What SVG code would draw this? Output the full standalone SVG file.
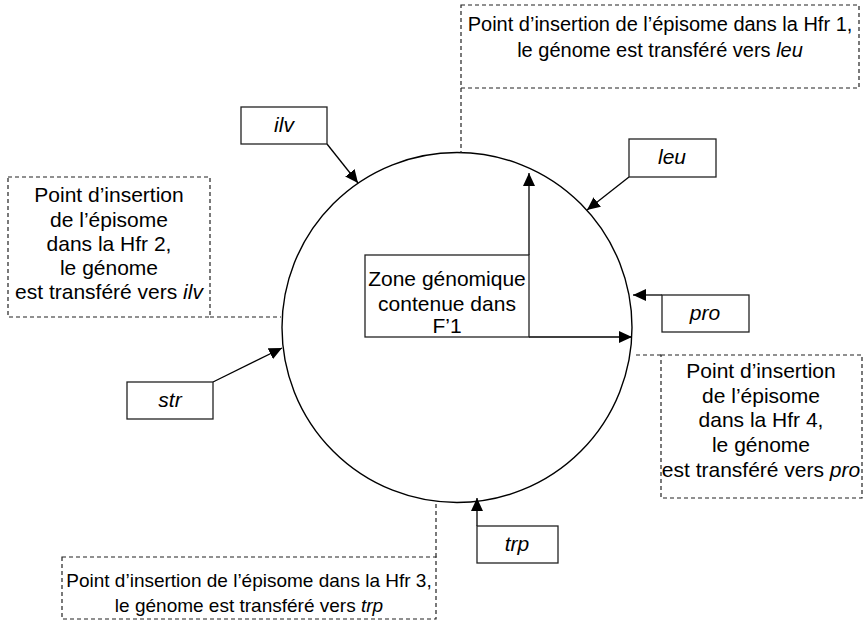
<svg xmlns="http://www.w3.org/2000/svg" width="865" height="621" viewBox="0 0 865 621">
<style>
text{font-family:"Liberation Sans",Arial,sans-serif;font-size:21px;fill:#000;text-anchor:middle}
.it{font-style:italic}
.s20{font-size:20px}
.s19{font-size:19px}
.box{fill:#fff;stroke:#222;stroke-width:1.3}
.dash{fill:none;stroke:#222;stroke-width:1.2;stroke-dasharray:4 3}
.arr{fill:none;stroke:#000;stroke-width:1.3;marker-end:url(#ah)}
</style>
<defs>
<marker id="ah" markerUnits="userSpaceOnUse" markerWidth="14" markerHeight="12" refX="13" refY="6" orient="auto">
<path d="M0,0 L13,6 L0,12 Z" fill="#000"/>
</marker>
</defs>
<rect width="865" height="621" fill="#fff"/>
<g id="genome">
<circle cx="457" cy="327.5" r="175" fill="none" stroke="#000" stroke-width="1.4"/>
</g>
<g id="connectors">
<path class="dash" d="M461,88 V153"/>
<path class="dash" d="M210,317 H281"/>
<path class="dash" d="M661,355 H633"/>
<path class="dash" d="M436,557 V502"/>
<path class="arr" d="M327,144 L358,183"/>
<path class="arr" d="M629,177 L587,210"/>
<path class="arr" d="M662,295 H633"/>
<path class="arr" d="M213,382 L282,348"/>
<path class="arr" d="M477,526 V498"/>
<path class="arr" d="M529,255 V173"/>
<path class="arr" d="M529,337 H632"/>
</g>
<g id="hfr1">
<rect class="dash" x="461" y="5" width="398" height="83"/>
<text class="s20" x="660" y="31">Point d’insertion de l’épisome dans la Hfr 1,</text>
<text class="s20" x="660" y="57">le génome est transféré vers <tspan class="it">leu</tspan></text>
</g>
<g id="hfr2">
<rect class="dash" x="8" y="177" width="202" height="140"/>
<text x="109" y="202">Point d’insertion</text>
<text x="109" y="227">de l’épisome</text>
<text x="109" y="251">dans la Hfr 2,</text>
<text x="109" y="275">le génome</text>
<text x="109" y="299">est transféré vers <tspan class="it">ilv</tspan></text>
</g>
<g id="hfr4">
<rect class="dash" x="661" y="355" width="201" height="143"/>
<text x="761" y="378">Point d’insertion</text>
<text x="761" y="403">de l’épisome</text>
<text x="761" y="427">dans la Hfr 4,</text>
<text x="761" y="452">le génome</text>
<text x="761" y="477">est transféré vers <tspan class="it">pro</tspan></text>
</g>
<g id="hfr3">
<rect class="dash" x="62" y="557" width="374" height="62"/>
<text class="s19" x="249" y="587">Point d’insertion de l’épisome dans la Hfr 3,</text>
<text class="s19" x="249" y="612">le génome est transféré vers <tspan class="it">trp</tspan></text>
</g>
<g id="ilv">
<rect class="box" x="241" y="107" width="86" height="37"/>
<text class="it" x="284" y="132">ilv</text>
</g>
<g id="leu">
<rect class="box" x="629" y="139" width="87" height="38"/>
<text class="it" x="672" y="164">leu</text>
</g>
<g id="pro">
<rect class="box" x="662" y="295" width="87" height="37"/>
<text class="it" x="705" y="320">pro</text>
</g>
<g id="str">
<rect class="box" x="127" y="382" width="86" height="37"/>
<text class="it" x="170" y="407">str</text>
</g>
<g id="trp">
<rect class="box" x="477" y="526" width="81" height="37"/>
<text class="it" x="517" y="551">trp</text>
</g>
<g id="zone">
<rect class="box" x="365" y="255" width="164" height="82"/>
<text x="447" y="286">Zone génomique</text>
<text x="447" y="311">contenue dans</text>
<text x="447" y="333">F’1</text>
</g>
</svg>
